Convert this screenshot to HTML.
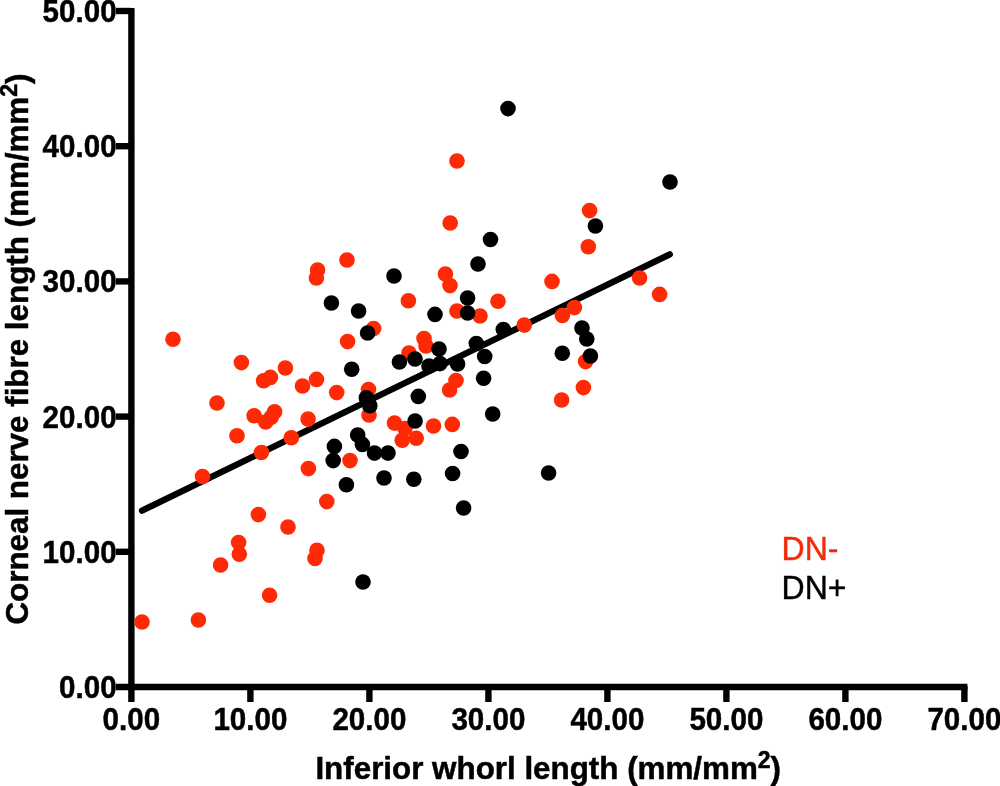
<!DOCTYPE html>
<html><head><meta charset="utf-8"><title>Scatter</title>
<style>
html,body{margin:0;padding:0;background:#fff;}
svg{display:block;will-change:transform;}
text{font-family:"Liberation Sans",Arial,Helvetica,sans-serif;}
.b{font-weight:bold;}
</style></head><body>
<svg width="1000" height="786" viewBox="0 0 1000 786">
<rect width="1000" height="786" fill="#fff"/>

<g stroke="#000" stroke-width="6.4" fill="none" stroke-linecap="butt">
<path d="M131.4 7.9V702"/>
<path d="M116 687H967.4"/>
<path d="M116 551.8H131"/>
<path d="M116 416.6H131"/>
<path d="M116 281.4H131"/>
<path d="M116 146.2H131"/>
<path d="M116 11.0H131"/>
<path d="M250.4 686V702"/>
<path d="M369.4 686V702"/>
<path d="M488.4 686V702"/>
<path d="M607.4 686V702"/>
<path d="M726.4 686V702"/>
<path d="M845.4 686V702"/>
<path d="M964.4 686V702"/>
</g>
<path d="M142 510.7L669.8 254.3" stroke="#000" stroke-width="6.3" stroke-linecap="round" fill="none"/>
<g fill="#fe2a05">
<circle cx="142.0" cy="622.0" r="7.8"/>
<circle cx="198.4" cy="620.0" r="7.8"/>
<circle cx="269.6" cy="595.2" r="7.8"/>
<circle cx="220.6" cy="565.0" r="7.8"/>
<circle cx="238.6" cy="542.6" r="7.8"/>
<circle cx="239.3" cy="554.3" r="7.8"/>
<circle cx="317.0" cy="550.3" r="7.8"/>
<circle cx="315.0" cy="558.5" r="7.8"/>
<circle cx="288.0" cy="527.0" r="7.8"/>
<circle cx="258.4" cy="514.6" r="7.8"/>
<circle cx="326.8" cy="501.6" r="7.8"/>
<circle cx="202.5" cy="476.5" r="7.8"/>
<circle cx="308.4" cy="468.6" r="7.8"/>
<circle cx="261.4" cy="452.5" r="7.8"/>
<circle cx="237.0" cy="435.7" r="7.8"/>
<circle cx="291.3" cy="437.7" r="7.8"/>
<circle cx="254.1" cy="415.7" r="7.8"/>
<circle cx="265.7" cy="422.0" r="7.8"/>
<circle cx="271.2" cy="417.2" r="7.8"/>
<circle cx="274.6" cy="411.8" r="7.8"/>
<circle cx="308.1" cy="419.1" r="7.8"/>
<circle cx="217.0" cy="403.0" r="7.8"/>
<circle cx="173.0" cy="339.2" r="7.8"/>
<circle cx="241.4" cy="362.6" r="7.8"/>
<circle cx="285.4" cy="368.0" r="7.8"/>
<circle cx="263.6" cy="380.8" r="7.8"/>
<circle cx="270.4" cy="377.4" r="7.8"/>
<circle cx="316.5" cy="379.4" r="7.8"/>
<circle cx="302.5" cy="386.0" r="7.8"/>
<circle cx="317.6" cy="270.0" r="7.8"/>
<circle cx="316.4" cy="278.0" r="7.8"/>
<circle cx="347.0" cy="260.0" r="7.8"/>
<circle cx="445.4" cy="274.0" r="7.8"/>
<circle cx="450.0" cy="285.6" r="7.8"/>
<circle cx="408.4" cy="300.8" r="7.8"/>
<circle cx="498.0" cy="301.2" r="7.8"/>
<circle cx="457.0" cy="311.0" r="7.8"/>
<circle cx="480.0" cy="316.0" r="7.8"/>
<circle cx="373.6" cy="328.6" r="7.8"/>
<circle cx="347.6" cy="341.6" r="7.8"/>
<circle cx="424.0" cy="338.6" r="7.8"/>
<circle cx="426.0" cy="346.0" r="7.8"/>
<circle cx="409.0" cy="353.0" r="7.8"/>
<circle cx="456.0" cy="380.5" r="7.8"/>
<circle cx="449.6" cy="390.0" r="7.8"/>
<circle cx="368.5" cy="389.6" r="7.8"/>
<circle cx="336.7" cy="392.6" r="7.8"/>
<circle cx="524.3" cy="325.1" r="7.8"/>
<circle cx="369.0" cy="415.0" r="7.8"/>
<circle cx="394.5" cy="423.1" r="7.8"/>
<circle cx="405.0" cy="428.5" r="7.8"/>
<circle cx="402.2" cy="440.2" r="7.8"/>
<circle cx="416.2" cy="438.2" r="7.8"/>
<circle cx="433.5" cy="426.0" r="7.8"/>
<circle cx="452.3" cy="424.4" r="7.8"/>
<circle cx="350.0" cy="460.6" r="7.8"/>
<circle cx="457.0" cy="161.0" r="7.8"/>
<circle cx="450.2" cy="223.0" r="7.8"/>
<circle cx="589.6" cy="210.6" r="7.8"/>
<circle cx="588.3" cy="246.8" r="7.8"/>
<circle cx="552.0" cy="281.4" r="7.8"/>
<circle cx="639.6" cy="278.0" r="7.8"/>
<circle cx="659.6" cy="294.4" r="7.8"/>
<circle cx="574.4" cy="307.6" r="7.8"/>
<circle cx="562.4" cy="315.4" r="7.8"/>
<circle cx="585.6" cy="361.6" r="7.8"/>
<circle cx="583.4" cy="387.6" r="7.8"/>
<circle cx="561.6" cy="400.0" r="7.8"/>
</g><g fill="#000">
<circle cx="508.0" cy="108.6" r="7.8"/>
<circle cx="490.5" cy="239.5" r="7.8"/>
<circle cx="670.0" cy="182.0" r="7.8"/>
<circle cx="595.4" cy="226.0" r="7.8"/>
<circle cx="478.0" cy="264.0" r="7.8"/>
<circle cx="394.0" cy="276.0" r="7.8"/>
<circle cx="331.4" cy="303.0" r="7.8"/>
<circle cx="358.6" cy="311.0" r="7.8"/>
<circle cx="467.6" cy="298.0" r="7.8"/>
<circle cx="467.6" cy="313.0" r="7.8"/>
<circle cx="435.0" cy="314.4" r="7.8"/>
<circle cx="367.6" cy="333.0" r="7.8"/>
<circle cx="503.3" cy="329.6" r="7.8"/>
<circle cx="476.3" cy="343.5" r="7.8"/>
<circle cx="439.0" cy="349.0" r="7.8"/>
<circle cx="484.7" cy="356.5" r="7.8"/>
<circle cx="399.4" cy="362.0" r="7.8"/>
<circle cx="415.0" cy="359.0" r="7.8"/>
<circle cx="429.0" cy="366.0" r="7.8"/>
<circle cx="440.0" cy="363.6" r="7.8"/>
<circle cx="457.6" cy="364.0" r="7.8"/>
<circle cx="351.7" cy="369.2" r="7.8"/>
<circle cx="483.6" cy="378.3" r="7.8"/>
<circle cx="418.3" cy="396.4" r="7.8"/>
<circle cx="366.4" cy="397.7" r="7.8"/>
<circle cx="369.8" cy="405.8" r="7.8"/>
<circle cx="492.7" cy="414.0" r="7.8"/>
<circle cx="415.1" cy="421.0" r="7.8"/>
<circle cx="357.7" cy="435.0" r="7.8"/>
<circle cx="362.4" cy="444.4" r="7.8"/>
<circle cx="374.5" cy="453.1" r="7.8"/>
<circle cx="388.0" cy="453.1" r="7.8"/>
<circle cx="334.4" cy="446.4" r="7.8"/>
<circle cx="333.2" cy="460.6" r="7.8"/>
<circle cx="346.4" cy="484.8" r="7.8"/>
<circle cx="384.0" cy="478.0" r="7.8"/>
<circle cx="413.8" cy="479.3" r="7.8"/>
<circle cx="452.6" cy="473.5" r="7.8"/>
<circle cx="461.0" cy="451.5" r="7.8"/>
<circle cx="463.6" cy="508.0" r="7.8"/>
<circle cx="582.0" cy="328.0" r="7.8"/>
<circle cx="586.8" cy="339.0" r="7.8"/>
<circle cx="562.3" cy="353.2" r="7.8"/>
<circle cx="590.4" cy="356.0" r="7.8"/>
<circle cx="548.6" cy="473.0" r="7.8"/>
<circle cx="363.0" cy="582.0" r="7.8"/>
</g>
<g class="b" font-size="32" fill="#000" stroke="#000" stroke-width=".5">
<text transform="translate(116.6 698.0) scale(.925 1)" text-anchor="end">0.00</text>
<text transform="translate(116.6 562.8) scale(.925 1)" text-anchor="end">10.00</text>
<text transform="translate(116.6 427.6) scale(.925 1)" text-anchor="end">20.00</text>
<text transform="translate(116.6 292.4) scale(.925 1)" text-anchor="end">30.00</text>
<text transform="translate(116.6 157.2) scale(.925 1)" text-anchor="end">40.00</text>
<text transform="translate(116.6 22.0) scale(.925 1)" text-anchor="end">50.00</text>
<text transform="translate(131.4 730) scale(.925 1)" text-anchor="middle">0.00</text>
<text transform="translate(250.4 730) scale(.925 1)" text-anchor="middle">10.00</text>
<text transform="translate(369.4 730) scale(.925 1)" text-anchor="middle">20.00</text>
<text transform="translate(488.4 730) scale(.925 1)" text-anchor="middle">30.00</text>
<text transform="translate(607.4 730) scale(.925 1)" text-anchor="middle">40.00</text>
<text transform="translate(726.4 730) scale(.925 1)" text-anchor="middle">50.00</text>
<text transform="translate(845.4 730) scale(.925 1)" text-anchor="middle">60.00</text>
<text transform="translate(964.4 730) scale(.925 1)" text-anchor="middle">70.00</text>
</g>
<text class="b" font-size="32" stroke="#000" stroke-width=".5" transform="translate(315.4 779) scale(.98 1)">Inferior whorl length (mm/mm<tspan font-size="23.5" dy="-11">2</tspan><tspan dy="11">)</tspan></text>
<text class="b" font-size="32" stroke="#000" stroke-width=".5" transform="translate(28 624.6) rotate(-90) scale(.98 1)">Corneal nerve fibre length (mm/mm<tspan font-size="23.5" dy="-11">2</tspan><tspan dy="11">)</tspan></text>
<text font-size="32" transform="translate(781.6 560) scale(1 1.035)" fill="#f42a08" stroke="#f42a08" stroke-width=".4">DN-</text>
<text font-size="32" transform="translate(781.6 599) scale(1 1.035)" fill="#000" stroke="#000" stroke-width=".4">DN+</text>
</svg></body></html>
